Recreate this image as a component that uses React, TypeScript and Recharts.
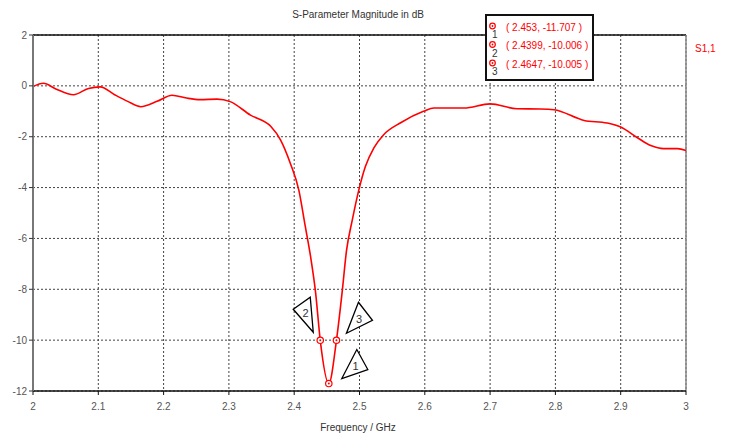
import {
  CartesianGrid,
  Line,
  LineChart,
  ReferenceDot,
  ReferenceLine,
  XAxis,
  YAxis,
} from "recharts"

const frequency = [
  2.0, 2.016, 2.035, 2.062, 2.085, 2.103, 2.125, 2.145, 2.165, 2.19, 2.213,
  2.235, 2.256, 2.282, 2.302, 2.333, 2.364, 2.379, 2.394, 2.407, 2.417, 2.425,
  2.4326, 2.4399, 2.453, 2.4647, 2.4735, 2.48, 2.489, 2.499, 2.509, 2.522,
  2.537, 2.563, 2.598, 2.614, 2.66, 2.7, 2.741, 2.777, 2.798, 2.844, 2.879, 2.9,
  2.925, 2.946, 2.966, 2.987, 3.0,
]

const s11 = [
  -0.03, 0.1, -0.12, -0.35, -0.1, -0.04, -0.35, -0.61, -0.82, -0.61, -0.37,
  -0.48, -0.54, -0.52, -0.62, -1.15, -1.59, -2.12, -3.04, -4.09, -5.53, -6.7,
  -8.09, -10.006, -11.707, -10.005, -8.09, -6.5, -5.27, -4.09, -3.17, -2.44,
  -1.92, -1.45, -1.0, -0.87, -0.87, -0.71, -0.9, -0.91, -0.94, -1.36, -1.46,
  -1.62, -2.03, -2.35, -2.47, -2.47, -2.54,
]

const xTicks = [2, 2.1, 2.2, 2.3, 2.4, 2.5, 2.6, 2.7, 2.8, 2.9, 3]
const yTicks = [2, 0, -2, -4, -6, -8, -10, -12]

// marker id, frequency, magnitude
const markerIds = ["1", "2", "3"]
const markerFreq = [2.453, 2.4399, 2.4647]
const markerDb = [-11.707, -10.006, -10.005]
const markerText = ["( 2.453, -11.707 )", "( 2.4399, -10.006 )", "( 2.4647, -10.005 )"]

const data = frequency.map((f, i) => ({ f, s11: s11[i] }))

const FONT = "'Liberation Sans', Arial, sans-serif"
const RED = "#ff0000"

// callout triangle corners, relative to the marker point
const callouts: Record<string, number[][]> = {
  "1": [[28, -34], [39, -14], [13, -5]],
  "2": [[-27, -31], [-10, -43], [-7, -8]],
  "3": [[22, -38], [36, -20], [10, -7]],
}

function MarkerShape(props: any) {
  const { cx, cy, id } = props
  const pts = callouts[id]
  const tx = (pts[0][0] + pts[1][0] + pts[2][0]) / 3
  const ty = (pts[0][1] + pts[1][1] + pts[2][1]) / 3
  return (
    <g>
      <polygon
        fill="#fff"
        points={pts.map(([dx, dy]) => `${cx + dx},${cy + dy}`).join(" ")}
        stroke="#000"
        strokeWidth={1.3}
      />
      <text
        dominantBaseline="central"
        fill="#333"
        fontFamily={FONT}
        fontSize={11}
        textAnchor="middle"
        x={cx + tx}
        y={cy + ty}
      >
        {id}
      </text>
      <circle cx={cx} cy={cy} fill="#fff" r={3.2} stroke={RED} strokeWidth={1.2} />
      <circle cx={cx} cy={cy} fill={RED} r={1} />
    </g>
  )
}

function MarkerTable() {
  return (
    <g>
      <rect fill="#fff" height={65} stroke="#111" strokeWidth={2} width={107} x={486} y={15} />
      {markerIds.map((id, i) => {
        const y = 27 + i * 18.5
        return (
          <g key={id}>
            <circle cx={492.5} cy={y - 1} fill="#fff" r={2.8} stroke={RED} strokeWidth={1.2} />
            <circle cx={492.5} cy={y - 1} fill={RED} r={0.9} />
            <text fill="#333" fontFamily={FONT} fontSize={10} x={492} y={y + 11}>
              {id}
            </text>
            <text
              dominantBaseline="central"
              fill={RED}
              fontFamily={FONT}
              fontSize={10}
              x={506}
              y={y}
            >
              {markerText[i]}
            </text>
          </g>
        )
      })}
    </g>
  )
}

export default function App() {
  return (
    <div
      style={{
        background: "#fff",
        height: 438,
        left: 0,
        position: "absolute",
        top: 0,
        width: 729,
      }}
    >
      <LineChart
        data={data}
        height={438}
        margin={{ top: 35, right: 43, bottom: 17, left: 0 }}
        width={729}
      >
        <CartesianGrid stroke="#444" strokeDasharray="2 2" />
        <XAxis
          axisLine={{ stroke: "#111", strokeWidth: 1.5 }}
          dataKey="f"
          domain={[2, 3]}
          height={30}
          tick={{ fill: "#555", fontFamily: FONT, fontSize: 10 }}
          tickFormatter={(v) => `${Number(v.toFixed(1))}`}
          tickLine={{ stroke: "#111" }}
          tickMargin={8}
          tickSize={4}
          ticks={xTicks}
          type="number"
        />
        <YAxis
          axisLine={{ stroke: "#777", strokeWidth: 2 }}
          domain={[-12, 2]}
          tick={{ fill: "#555", fontFamily: FONT, fontSize: 10 }}
          tickLine={{ stroke: "#333" }}
          tickMargin={2}
          tickSize={4}
          ticks={yTicks}
          type="number"
          width={33}
        />
        <ReferenceLine stroke="#111" strokeWidth={1.5} y={2} />
        <ReferenceLine stroke="#888" strokeWidth={1.5} x={3} />
        <Line
          dataKey="s11"
          dot={false}
          isAnimationActive={false}
          stroke={RED}
          strokeWidth={1.6}
          type="monotone"
        />
        {markerIds.map((id, i) => (
          <ReferenceDot
            key={id}
            r={3}
            shape={(p: any) => <MarkerShape {...p} id={id} />}
            x={markerFreq[i]}
            y={markerDb[i]}
          />
        ))}
      </LineChart>
      <svg
        height={438}
        style={{ left: 0, pointerEvents: "none", position: "absolute", top: 0 }}
        width={729}
      >
        <text
          dominantBaseline="central"
          fill="#333"
          fontFamily={FONT}
          fontSize={10}
          textAnchor="middle"
          x={358}
          y={14}
        >
          S-Parameter Magnitude in dB
        </text>
        <text
          dominantBaseline="central"
          fill="#333"
          fontFamily={FONT}
          fontSize={10}
          textAnchor="middle"
          x={358}
          y={427}
        >
          Frequency / GHz
        </text>
        <text
          dominantBaseline="central"
          fill={RED}
          fontFamily={FONT}
          fontSize={10}
          x={695}
          y={48}
        >
          S1,1
        </text>
        <MarkerTable />
      </svg>
    </div>
  )
}
